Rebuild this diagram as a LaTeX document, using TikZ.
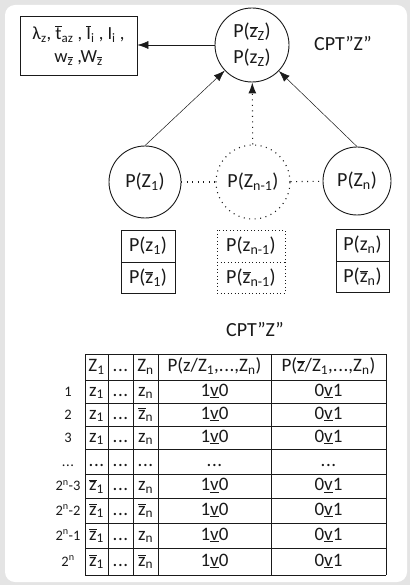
\documentclass[tikz,border=0pt]{standalone}
\usepackage{fontspec}
\setmainfont{Carlito}
\usetikzlibrary{arrows.meta}
\definecolor{bgc}{HTML}{E4E4E4}
\definecolor{ink}{HTML}{1A1A1A}
\newcommand{\ob}[1]{$\overline{\mbox{#1}}$}
\newcommand{\dts}{.\kern0.6pt.\kern0.6pt.}
\begin{document}
\begin{tikzpicture}[x=1pt,y=-1pt,
  every node/.style={font=\fontsize{20}{26}\selectfont, inner sep=0pt, text=ink},
  circ/.style={draw=ink, circle, line width=0.9pt},
  dotc/.style={draw=ink, circle, line width=1.1pt, dash pattern=on 1pt off 4.5pt},
  rbox/.style={draw=ink, rectangle, line width=0.9pt},
  arr/.style={-{Latex[length=11pt,width=8pt]}, line width=0.5pt, draw=ink},
  dots/.style={line width=1.1pt, dash pattern=on 1pt off 4.5pt, draw=ink},
  tline/.style={line width=1pt, draw=ink},
  cell/.style={font=\fontsize{19}{22}\selectfont, text height=13pt, text depth=4pt},
  lab/.style={font=\fontsize{14.5}{16}\selectfont, text height=10pt, text depth=1pt}]
\useasboundingbox (0,0) rectangle (410,585);
\fill[bgc] (0,0) rectangle (410,585);
\fill[white, rounded corners=10pt] (5,5) rectangle (407,582);

% top part
\node[circ, minimum size=74pt, align=center] (top) at (252,45) {P(\ob{z}\textsubscript{Z})\\P(z\textsubscript{Z})};
\node (cpt1) at (343,44) {CPT”Z”};
\node[rbox, minimum width=117pt, minimum height=59pt, align=center, font=\fontsize{18.5}{23}\selectfont] (box) at (78.5,45.5)
  {λ\textsubscript{z}, \ob{t}\textsubscript{az} , \ob{I}\textsubscript{i} , I\textsubscript{i} ,\\w\textsubscript{\ob{z}} ,W\textsubscript{\ob{z}}};

% parent nodes
\node[circ, minimum size=72pt] (z1) at (145,182) {P(Z\textsubscript{1})};
\node[dotc, minimum size=74pt] (zm) at (253,182) {P(Z\textsubscript{n-1})};
\node[circ, minimum size=68pt] (zn) at (357,181) {P(Z\textsubscript{n})};

\draw[dots] (z1) -- (zm);
\draw[dots] (zm) -- (zn);
\draw[arr] (z1.north) -- (top);
\draw[arr, dash pattern=on 1pt off 4.5pt, line width=1.1pt] (zm) -- (top);
\draw[arr] (zn.north) -- (top);
\draw[arr] (top) -- (box.east |- top);

% small CPTs
\draw[rbox] (121,230) rectangle (175,293);
\draw[rbox] (121,262) -- (175,262);
\node (p1a) at (148,246) {P(z\textsubscript{1})};
\node (p1b) at (148,277.5) {P(\ob{z}\textsubscript{1})};

\draw[draw=ink, line width=1pt, dash pattern=on 1pt off 2.5pt] (217,230) rectangle (285,293);
\draw[draw=ink, line width=1pt, dash pattern=on 1pt off 2.5pt] (217,262) -- (285,262);
\node (p2a) at (251,246) {P(z\textsubscript{n-1})};
\node (p2b) at (251,277.5) {P(\ob{z}\textsubscript{n-1})};

\draw[rbox] (336,229) rectangle (389,292);
\draw[rbox] (336,261) -- (389,261);
\node (p3a) at (362.5,245) {P(z\textsubscript{n})};
\node (p3b) at (362.5,276.5) {P(\ob{z}\textsubscript{n})};

\node (cpt2) at (255,330) {CPT”Z”};

% big table
\foreach \x in {85,108,133,158,271,386} \draw[tline] (\x,354) -- (\x,575);
\foreach \y in {354,380,403,426,449,474,498,523,548,575} \draw[tline] (85,\y) -- (386,\y);

\node[cell] (h1) at (96.5,367) {Z\textsubscript{1}};
\node[cell] (h2) at (120.5,367) {\dts};
\node[cell] (h3) at (145.5,367) {Z\textsubscript{n}};
\node[cell] (h4) at (214.5,367) {P(z/Z\textsubscript{1},\dts,Z\textsubscript{n})};
\node[cell] (h5) at (328.5,367) {P(\ob{z}/Z\textsubscript{1},\dts,Z\textsubscript{n})};

\foreach \yy/\lb/\a/\c in {391.5/1/z/z, 414.5/2/z/\ob{z}, 437.5/3/z/z,
   486/{2\textsuperscript{n}-3}/\ob{z}/z, 510.5/{2\textsuperscript{n}-2}/\ob{z}/\ob{z},
   535.5/{2\textsuperscript{n}-1}/\ob{z}/z, 561.5/{2\textsuperscript{n}}/\ob{z}/\ob{z}} {
  \node[lab] at (68,\yy) {\lb};
  \node[cell] at (96.5,\yy) {\a\textsubscript{1}};
  \node[cell] at (120.5,\yy) {\dts};
  \node[cell] at (145.5,\yy) {\c\textsubscript{n}};
  \node[cell] at (214.5,\yy) {1\underline{v}0};
  \node[cell] at (328.5,\yy) {0\underline{v}1};
}
\node[lab] (dl) at (68,461.5) {\dts};
\node[cell] (d1) at (96.5,461.5) {\dts};
\node[cell] (d2) at (120.5,461.5) {\dts};
\node[cell] (d3) at (145.5,461.5) {\dts};
\node[cell] (d4) at (214.5,461.5) {\dts};
\node[cell] (d5) at (328.5,461.5) {\dts};
\end{tikzpicture}
\end{document}
